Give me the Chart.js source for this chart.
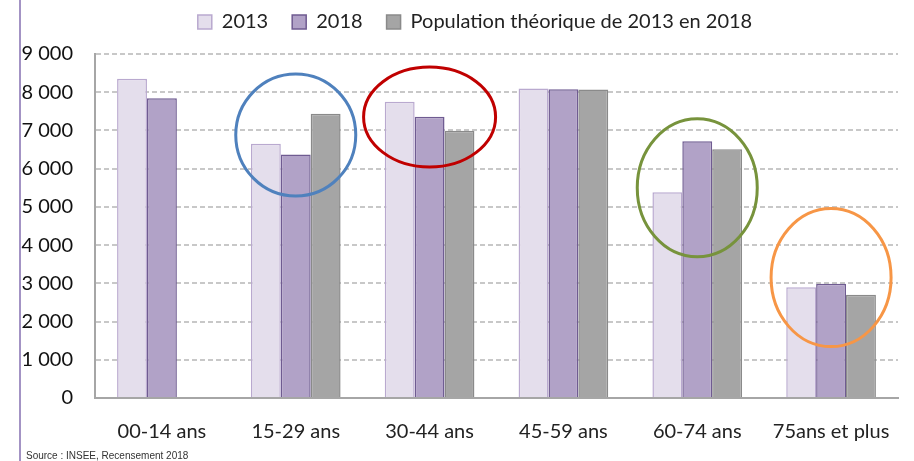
<!DOCTYPE html>
<html>
<head>
<meta charset="utf-8">
<script src="https://cdn.jsdelivr.net/npm/chart.js@4.4.0/dist/chart.umd.min.js"></script>
<style>
  html, body { margin: 0; padding: 0; background: #fff; }
  #wrap { position: relative; width: 914px; height: 461px; }
  #side { position: absolute; left: 19px; top: 0; width: 2px; height: 461px; background: #A393C4; }
  #source { position: absolute; left: 26px; top: 450px; font: 10px "Liberation Sans Narrow", "Liberation Sans", sans-serif; color: #333; }
</style>
</head>
<body>
<div id="wrap">
  <canvas id="chart" width="914" height="461"></canvas>
  <div id="side"></div>
  <div id="source">Source : INSEE, Recensement 2018</div>
</div>
<script>
// Données
const categories = ["00-14 ans", "15-29 ans", "30-44 ans", "45-59 ans", "60-74 ans", "75ans et plus"];
const pop2013 = [8350, 6650, 7750, 8100, 5380, 2900];
const pop2018 = [7840, 6370, 7360, 8080, 6720, 2990];
const popTheorique = [null, 7440, 6990, 8070, 6510, 2700];
const yTicks = [0, 1000, 2000, 3000, 4000, 5000, 6000, 7000, 8000, 9000];

// Cercles de mise en évidence : catégorie, valeur centrale, rayons
const highlights = [
  { cat: 1, value: 6880, rx: 60, ry: 61, color: "#4F81BD" },
  { cat: 2, value: 7350, rx: 66, ry: 50, color: "#C00000" },
  { cat: 4, value: 5500, rx: 60, ry: 69, color: "#77933C" },
  { cat: 5, value: 3150, rx: 60, ry: 69, color: "#F79646" }
];

const FONT = "Lato, 'Open Sans', sans-serif";

const ellipsePlugin = {
  id: "ellipses",
  afterDatasetsDraw(chart) {
    const ctx = chart.ctx;
    const xs = chart.scales.x, ys = chart.scales.y;
    highlights.forEach(h => {
      const cx = xs.getPixelForValue(h.cat);
      const cy = ys.getPixelForValue(h.value);
      ctx.save();
      ctx.beginPath();
      ctx.ellipse(cx, cy, h.rx, h.ry, 0, 0, Math.PI * 2);
      ctx.lineWidth = 3;
      ctx.strokeStyle = h.color;
      ctx.stroke();
      ctx.restore();
    });
  }
};

// Décale la légende (centrée sur la zone du graphique, plus haut)
const legendShift = {
  id: "legendShift",
  afterLayout(chart) {
    const lg = chart.legend;
    lg.left += 26; lg.right += 26;
    lg.top -= 12; lg.bottom -= 12;
  }
};

new Chart(document.getElementById("chart").getContext("2d"), {
  type: "bar",
  data: {
    labels: categories,
    datasets: [
      { label: "2013", data: pop2013, backgroundColor: "#E4DEEC", borderColor: "#B9A9CF", borderWidth: 1.5 },
      { label: "2018", data: pop2018, backgroundColor: "#B1A2C7", borderColor: "#6F5B91", borderWidth: 1.5 },
      { label: "Population théorique de 2013 en 2018", data: popTheorique, backgroundColor: "#A5A5A5", borderColor: "#8A8A8A", borderWidth: 1.5 }
    ]
  },
  options: {
    responsive: false,
    animation: false,
    devicePixelRatio: 1,
    layout: { padding: { left: 0, right: 16, top: 0, bottom: 3 } },
    datasets: { bar: { barPercentage: 1, categoryPercentage: 0.67 } },
    plugins: {
      legend: {
        position: "top",
        labels: {
          font: { family: FONT, size: 20 },
          color: "#222",
          boxWidth: 14,
          boxHeight: 14,
          padding: 24
        }
      },
      tooltip: { enabled: false }
    },
    scales: {
      x: {
        grid: { display: false },
        border: { display: true, color: "#A6A6A6", width: 2 },
        ticks: { font: { family: FONT, size: 20 }, color: "#222", padding: 14 }
      },
      y: {
        min: 0,
        max: 9000,
        afterFit(scale) { scale.width = 95; },
        afterBuildTicks(scale) { scale.ticks = yTicks.map(v => ({ value: v })); },
        grid: {
          drawTicks: false,
          color: ctx => ctx.tick && ctx.tick.value === 0 ? "rgba(0,0,0,0)" : "#C8C8C8",
          lineWidth: 2
        },
        border: { display: true, color: "#A6A6A6", width: 2, dash: [5, 3] },
        ticks: {
          font: { family: FONT, size: 20 },
          color: "#111",
          padding: 22,
          callback: v => v === 0 ? "0" : String(v).replace(/\B(?=(\d{3})+(?!\d))/g, " ")
        }
      }
    }
  },
  plugins: [ellipsePlugin, legendShift]
});
</script>
</body>
</html>
